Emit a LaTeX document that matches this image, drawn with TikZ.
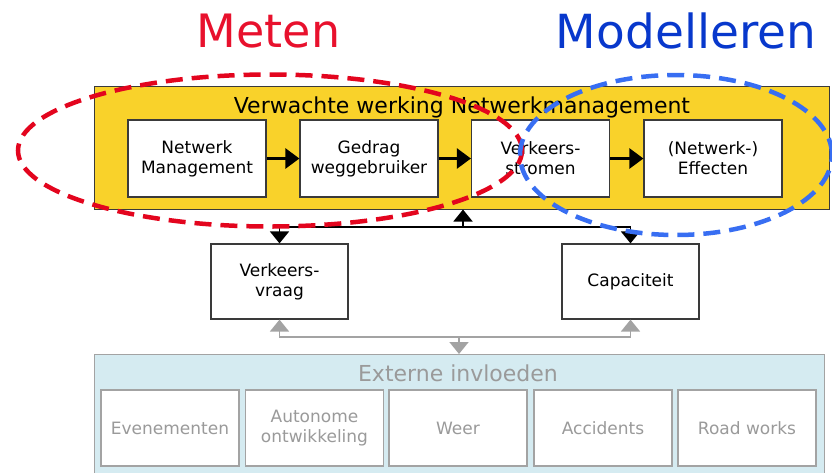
\documentclass[tikz,border=0pt]{standalone}
\usepackage{fontspec}
\setmainfont{DejaVu Sans}
\usetikzlibrary{arrows.meta}
\definecolor{ylw}{HTML}{F9D22A}
\definecolor{lblue}{HTML}{D5EBF1}
\definecolor{boxline}{HTML}{3A3A3A}
\definecolor{gline}{HTML}{A3A3A3}
\definecolor{gtext}{HTML}{9A9A9A}
\definecolor{metred}{RGB}{232,17,45}
\definecolor{ellred}{RGB}{227,5,30}
\definecolor{modblue}{RGB}{8,56,204}
\definecolor{ellblue}{RGB}{56,110,242}
\begin{document}
\begin{tikzpicture}[x=1pt,y=-1pt,
  topbox/.style={draw=boxline, line width=1.2pt, fill=white, minimum width=138pt, minimum height=77pt, inner sep=0pt, align=center, font=\fontsize{17}{20}\selectfont},
  midbox/.style={draw=boxline, line width=1.2pt, fill=white, minimum width=137pt, minimum height=75pt, inner sep=0pt, align=center, font=\fontsize{17}{20}\selectfont},
  extbox/.style={draw=gline, line width=1.2pt, fill=white, minimum width=138pt, minimum height=76pt, inner sep=0pt, align=center, text=gtext, font=\fontsize{17}{20}\selectfont},
  flow/.style={line width=2.6pt, -{Triangle[length=14pt,width=20pt]}},
  conn/.style={line width=1.8pt, line join=miter},
  ktip/.tip={Triangle[length=12pt,width=19pt]},
  gconn/.style={conn, draw=gline},
  ell/.style={line width=4.5pt, dash pattern=on 17pt off 9pt}
]
\clip (0,0) rectangle (832,472);
% titles
\node[anchor=base, text=metred, font=\fontsize{46}{50}\selectfont, inner sep=0pt] (meten) at (268.7,47) {Meten};
\node[anchor=base, text=modblue, font=\fontsize{47}{50}\selectfont, inner sep=0pt] (model) at (686,48) {Modelleren};
% yellow frame
\node[draw=boxline, line width=1pt, fill=ylw, minimum width=735pt, minimum height=123pt, inner sep=0pt] (ywn) at (461.5,147.5) {};
\node[anchor=base, font=\fontsize{22}{26}\selectfont, inner sep=0pt] (ytitle) at (462,113) {Verwachte werking Netwerkmanagement};
\node[topbox] (nm) at (197,158.5) {Netwerk\\Management};
\node[topbox] (gw) at (369,158.5) {Gedrag\\weggebruiker};
\node[topbox] (vs) at (540.5,158.5) {Verkeers-\\stromen};
\node[topbox] (ne) at (713,158.5) {(Netwerk-)\\Effecten};
\draw[flow] (nm) -- (gw);
\draw[flow] (gw) -- (vs);
\draw[flow] (vs) -- (ne);
% middle boxes
\node[midbox] (vv) at (279.5,281.5) {Verkeers-\\vraag};
\node[midbox] (cap) at (630.5,281.5) {Capaciteit};
% external frame
\node[draw=gline, line width=1.2pt, fill=lblue, minimum width=730pt, minimum height=126pt, inner sep=0pt, anchor=north west] (ext) at (93.5,354) {};
\node[anchor=base, text=gtext, font=\fontsize{22}{26}\selectfont, inner sep=0pt] (etitle) at (458,381) {Externe invloeden};
\node[extbox] (ev) at (170,428) {Evenementen};
\node[extbox] (au) at (314.5,428) {Autonome\\ontwikkeling};
\node[extbox] (we) at (458,428) {Weer};
\node[extbox] (ac) at (603,428) {Accidents};
\node[extbox] (rw) at (747,428) {Road works};
% black connectors
\coordinate (jb) at (463,227);
\draw[conn, ktip-ktip] (vv.north) -- (vv.north |- jb) -- (cap.north |- jb) -- (cap.north);
\draw[conn, -ktip] (jb) -- (ywn.south -| jb);
% gray connectors
\coordinate (jg) at (459,337);
\draw[gconn, ktip-ktip] (vv.south) -- (vv.south |- jg) -- (cap.south |- jg) -- (cap.south);
\draw[gconn, -ktip] (jg) -- (ext.north -| jg);
% ellipses
\draw[ell, draw=ellred] (270,150.5) ellipse [x radius=252pt, y radius=76pt];
\draw[ell, draw=ellblue] (676,155) ellipse [x radius=156pt, y radius=80pt];
\end{tikzpicture}
\end{document}
